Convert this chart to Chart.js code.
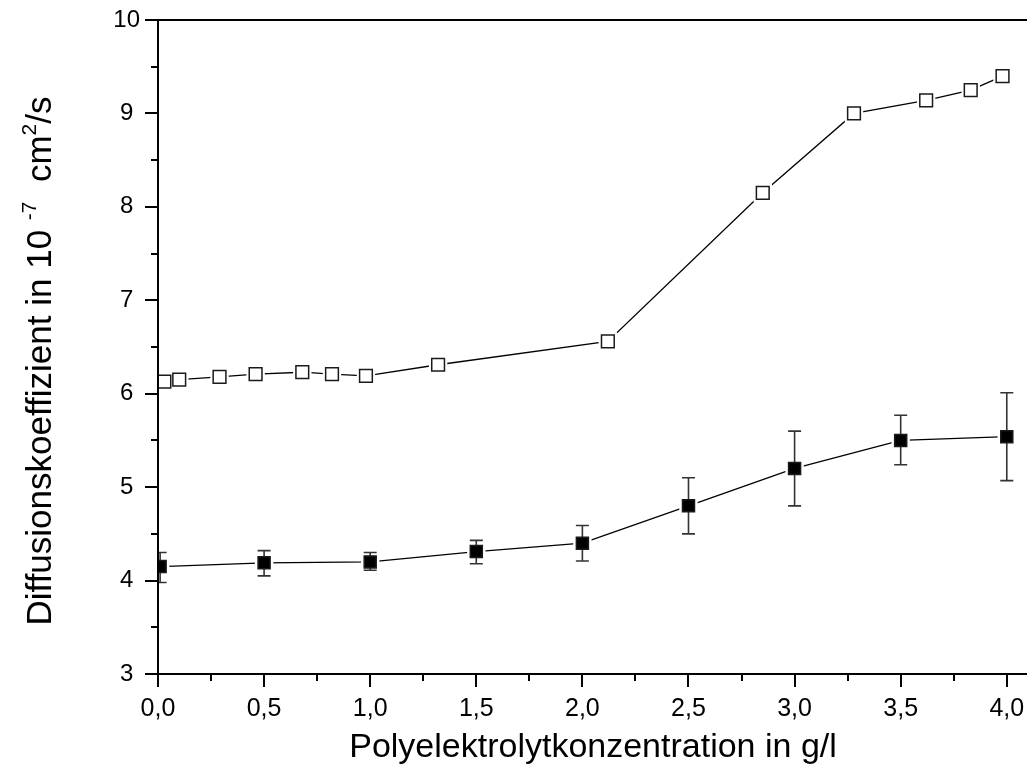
<!DOCTYPE html>
<html>
<head>
<meta charset="utf-8">
<script src="https://cdn.jsdelivr.net/npm/chart.js@4.4.1/dist/chart.umd.min.js"></script>
<style>
  html, body { margin: 0; padding: 0; background: #fff; overflow: hidden; }
  #wrap { width: 1040px; height: 772px; }
</style>
</head>
<body>
<div id="wrap"><canvas id="chart" width="1040" height="772"></canvas></div>
<script>
/* ---------- data ---------- */

// open squares
const openX = [0.03, 0.10, 0.29, 0.46, 0.68, 0.82, 0.98, 1.32, 2.12, 2.85, 3.28, 3.62, 3.83, 3.98];
const openY = [6.13, 6.15, 6.18, 6.21, 6.23, 6.21, 6.19, 6.31, 6.56, 8.15, 9.00, 9.14, 9.25, 9.40];

// filled squares with error bars
const filledX = [0.01, 0.5, 1.0, 1.5, 2.0, 2.5, 3.0, 3.5, 4.0];
const filledY = [4.15, 4.19, 4.20, 4.31, 4.40, 4.80, 5.20, 5.50, 5.54];
const filledLow = [3.98, 4.05, 4.11, 4.18, 4.21, 4.50, 4.80, 5.24, 5.07];
const filledHigh = [4.30, 4.32, 4.30, 4.43, 4.59, 5.10, 5.60, 5.77, 6.01];

// axis ticks
const xTicks = [0, 0.25, 0.5, 0.75, 1, 1.25, 1.5, 1.75, 2, 2.25, 2.5, 2.75, 3, 3.25, 3.5, 3.75, 4];
const yTicks = [3, 3.5, 4, 4.5, 5, 5.5, 6, 6.5, 7, 7.5, 8, 8.5, 9, 9.5, 10];

const xTitle = "Polyelektrolytkonzentration in g/l";
// y title pieces, superscripts flagged
const yTitleParts = [
  { text: "Diffusionskoeffizient in 10 ", sup: false },
  { text: "-7", sup: true },
  { text: "  cm", sup: false },
  { text: "2", sup: true },
  { text: "/s", sup: false }
];

const FONT = "'Liberation Sans', Arial, Helvetica, sans-serif";

/* ---------- helpers ---------- */

const toPts = (xs, ys) => xs.map((x, i) => ({ x: x, y: ys[i] }));
const isMajorX = v => Math.abs(v * 2 - Math.round(v * 2)) < 1e-6;
const isMajorY = v => Math.abs(v - Math.round(v)) < 1e-6;

// line only
const lineSet = pts => ({
  data: pts, showLine: true, borderColor: "#000", borderWidth: 1.3,
  pointRadius: 0, pointHoverRadius: 0, order: 4
});
// white square behind each marker, leaves a small gap in the line
const haloSet = pts => ({
  data: pts, showLine: false, pointStyle: "rect", pointRadius: 13,
  pointBackgroundColor: "#fff", pointBorderWidth: 0, pointHoverRadius: 0, order: 3
});
const markerSet = (pts, fill, r) => ({
  data: pts, showLine: false, pointStyle: "rect", pointRadius: r,
  pointBackgroundColor: fill, pointBorderColor: "#1a1a1a", pointBorderWidth: 1.5,
  pointHoverRadius: 0, order: 1
});

/* ---------- plugin: error bars, axes, tick marks, top frame, y title ---------- */

const frame = {
  id: "frame",
  afterDatasetDraw(chart, args) {
    if (args.index !== 3) return; // after the halos of the filled series
    const { ctx, chartArea: a, scales: { x, y } } = chart;
    ctx.save();
    ctx.beginPath();
    ctx.rect(a.left, a.top, a.right - a.left, a.bottom - a.top);
    ctx.clip();
    ctx.strokeStyle = "#333";
    ctx.lineWidth = 1.6;
    filledX.forEach((v, i) => {
      const px = x.getPixelForValue(v);
      const lo = y.getPixelForValue(filledLow[i]);
      const hi = y.getPixelForValue(filledHigh[i]);
      ctx.beginPath();
      ctx.moveTo(px, lo); ctx.lineTo(px, hi);
      ctx.moveTo(px - 6.5, lo); ctx.lineTo(px + 6.5, lo);
      ctx.moveTo(px - 6.5, hi); ctx.lineTo(px + 6.5, hi);
      ctx.stroke();
    });
    ctx.restore();
  },
  afterDraw(chart) {
    const { ctx, chartArea: a, scales: { x, y } } = chart;
    const L = Math.round(a.left), T = Math.round(a.top), B = Math.round(a.bottom);
    ctx.save();
    ctx.strokeStyle = "#000";
    ctx.lineWidth = 2;
    ctx.beginPath();
    // axis lines and top frame
    ctx.moveTo(L, T); ctx.lineTo(L, B);
    ctx.moveTo(L, B); ctx.lineTo(chart.width, B);
    ctx.moveTo(L, T); ctx.lineTo(chart.width, T);
    y.ticks.forEach(t => {
      const py = Math.round(y.getPixelForValue(t.value));
      const len = isMajorY(t.value) ? 13 : 7;
      ctx.moveTo(L - len, py); ctx.lineTo(L, py);
    });
    x.ticks.forEach(t => {
      const px = Math.round(x.getPixelForValue(t.value));
      const len = isMajorX(t.value) ? 13 : 7;
      ctx.moveTo(px, B); ctx.lineTo(px, B + len);
    });
    ctx.stroke();

    // rotated y title with real superscripts
    const big = "35px " + FONT, small = "21px " + FONT;
    let total = 0;
    yTitleParts.forEach(p => { ctx.font = p.sup ? small : big; total += ctx.measureText(p.text).width; });
    ctx.translate(51, (a.top + a.bottom) / 2 + 14 + total / 2);
    ctx.rotate(-Math.PI / 2);
    ctx.fillStyle = "#000";
    ctx.textBaseline = "alphabetic";
    ctx.textAlign = "left";
    let cx = 0;
    yTitleParts.forEach(p => {
      ctx.font = p.sup ? small : big;
      ctx.fillText(p.text, cx, p.sup ? -15 : 0);
      cx += ctx.measureText(p.text).width;
    });
    ctx.restore();
  }
};

/* ---------- chart ---------- */

const openPts = toPts(openX, openY);
const filledPts = toPts(filledX, filledY);

new Chart(document.getElementById("chart").getContext("2d"), {
  type: "scatter",
  data: {
    datasets: [
      lineSet(openPts),
      lineSet(filledPts),
      haloSet(openPts),
      haloSet(filledPts),
      markerSet(openPts, "#fff", 9),
      markerSet(filledPts, "#000", 8.5)
    ]
  },
  options: {
    responsive: false,
    devicePixelRatio: 1,
    animation: false,
    events: [],
    layout: { autoPadding: false, padding: { left: 0, top: 20, right: 12, bottom: 0 } },
    plugins: { legend: { display: false }, tooltip: { enabled: false } },
    scales: {
      x: {
        type: "linear",
        min: 0,
        max: 4.1,
        afterBuildTicks: s => { s.ticks = xTicks.map(v => ({ value: v })); },
        afterFit: s => { s.height = 98; s.paddingLeft = 0; s.paddingRight = 0; },
        grid: { display: false, drawTicks: false },
        border: { display: true, color: "#000", width: 2 },
        ticks: {
          autoSkip: false,
          maxRotation: 0,
          padding: 20,
          color: "#000",
          font: { family: FONT, size: 25 },
          callback: v => isMajorX(v) ? v.toFixed(1).replace(".", ",") : ""
        },
        title: {
          display: true,
          text: xTitle,
          color: "#000",
          font: { family: FONT, size: 34 },
          padding: { top: 0, bottom: 4 }
        }
      },
      y: {
        type: "linear",
        min: 3,
        max: 10,
        afterBuildTicks: s => { s.ticks = yTicks.map(v => ({ value: v })); },
        afterFit: s => { s.width = 158; s.paddingTop = 0; s.paddingBottom = 0; },
        grid: { display: false, drawTicks: false },
        border: { display: true, color: "#000", width: 2 },
        ticks: {
          autoSkip: false,
          crossAlign: "center",
          padding: 18,
          color: "#000",
          font: { family: FONT, size: 24 },
          callback: v => isMajorY(v) ? String(v) : ""
        }
      }
    }
  },
  plugins: [frame]
});
</script>
</body>
</html>
